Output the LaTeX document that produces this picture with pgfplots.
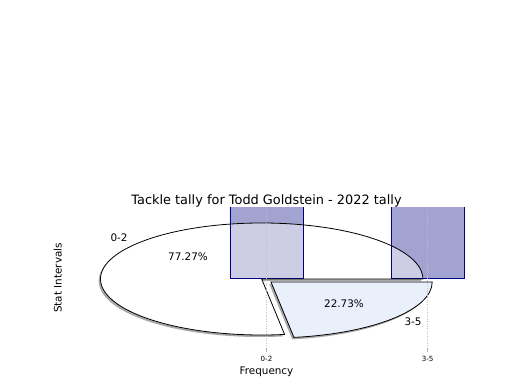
\documentclass[border=0pt]{standalone}
\usepackage{pgfplots}
\pgfplotsset{compat=1.18}
\usepackage{fontspec}
\setmainfont{DejaVu Sans}
\definecolor{barc}{RGB}{0,0,128}
\definecolor{wedgeb}{RGB}{233,240,252}
\def\va{17}
\def\vb{5}
\begin{document}
\begin{tikzpicture}
\pgfmathsetmacro{\angA}{360*\va/(\va+\vb)}
\begin{axis}[name=ax,
  scale only axis, width=403pt, height=140pt,
  xmin=-1.25, xmax=1.25, ymin=-1.25, ymax=1.25,
  axis line style={draw=none},
  xtick={0,1}, xticklabels={0-2,3-5}, ytick=\empty,
  xtick pos=left, tick align=outside, major tick length=4pt,
  tick style={gray!60, line width=0.6pt},
  xmajorgrids, grid style={dotted, gray!50, line width=0.7pt},
  axis on top,
  /pgf/number format/assume math mode=true,
  xticklabel style={font=\fontsize{7.1}{8}\selectfont, anchor=north, inner sep=0pt, yshift=-4pt},
  title={Tackle tally for Todd Goldstein - 2022 tally},
  title style={font=\fontsize{12.9}{14}\selectfont, at={(axis description cs:0.5,1)}, anchor=south, inner sep=0pt, yshift=-5pt},
  xlabel={Frequency},
  xlabel style={font=\fontsize{10.4}{12}\selectfont, at={(axis description cs:0.5,0)}, anchor=north, inner sep=0pt, yshift=-19pt},
  ylabel={Stat Intervals},
  ylabel style={font=\fontsize{10.4}{12}\selectfont, at={(axis description cs:-0.0075,0.5)}, anchor=south, inner sep=0pt, rotate=0},
  clip=true,
]
\path (axis cs:-0.030,-0.018) coordinate (cA);
\path (axis cs:0.028,-0.071) coordinate (cB);
% shadows
\fill[black!45, opacity=0.75] ([xshift=-1.8pt,yshift=-2pt]cA) -- ([xshift=159.4pt,yshift=-2pt]cA) arc[start angle=0,end angle=\angA,x radius=161.2pt,y radius=56pt] -- cycle;
\fill[black!45, opacity=0.75] ([xshift=-1.8pt,yshift=-2pt]cB) -- ([xshift=-1.8pt,yshift=-2pt,shift={(\angA:161.2pt and 56pt)}]cB) arc[start angle=\angA,end angle=360,x radius=161.2pt,y radius=56pt] -- cycle;
% opaque wedges
\fill[white] (cA) -- ([xshift=161.2pt]cA) arc[start angle=0,end angle=\angA,x radius=161.2pt,y radius=56pt] -- cycle;
\fill[wedgeb] (cB) -- ([shift={(\angA:161.2pt and 56pt)}]cB) arc[start angle=\angA,end angle=360,x radius=161.2pt,y radius=56pt] -- cycle;
% bars (fill)
\addplot[ybar, bar width=0.453, bar shift=0pt, fill=barc, fill opacity=0.36, draw=none] coordinates {(0,\va) (1,\vb)};
% translucent pie over bars
\fill[white, opacity=0.46] (cA) -- ([xshift=161.2pt]cA) arc[start angle=0,end angle=\angA,x radius=161.2pt,y radius=56pt] -- cycle;
% bar outlines
\addplot[ybar, bar width=0.453, bar shift=0pt, fill=none, draw=barc, line width=0.9pt] coordinates {(0,\va) (1,\vb)};
% pie outlines
\draw[black, line width=0.8pt] (cA) -- ([xshift=161.2pt]cA) arc[start angle=0,end angle=\angA,x radius=161.2pt,y radius=56pt] -- cycle;
\draw[black, line width=0.8pt] (cB) -- ([shift={(\angA:161.2pt and 56pt)}]cB) arc[start angle=\angA,end angle=360,x radius=161.2pt,y radius=56pt] -- cycle;
% labels
\node[font=\fontsize{10.4}{12}\selectfont] at (axis cs:-0.915,0.714) {0-2};
\node[font=\fontsize{10.4}{12}\selectfont] at (axis cs:-0.487,0.375) {77.27\%};
\node[font=\fontsize{10.4}{12}\selectfont] at (axis cs:0.481,-0.464) {22.73\%};
\node[font=\fontsize{10.4}{12}\selectfont] at (axis cs:0.909,-0.786) {3-5};
\end{axis}
\pgfresetboundingbox
\path[use as bounding box] ([xshift=-65pt,yshift=-42pt]ax.south west) rectangle ++(520pt,390pt);
\end{tikzpicture}
\end{document}
